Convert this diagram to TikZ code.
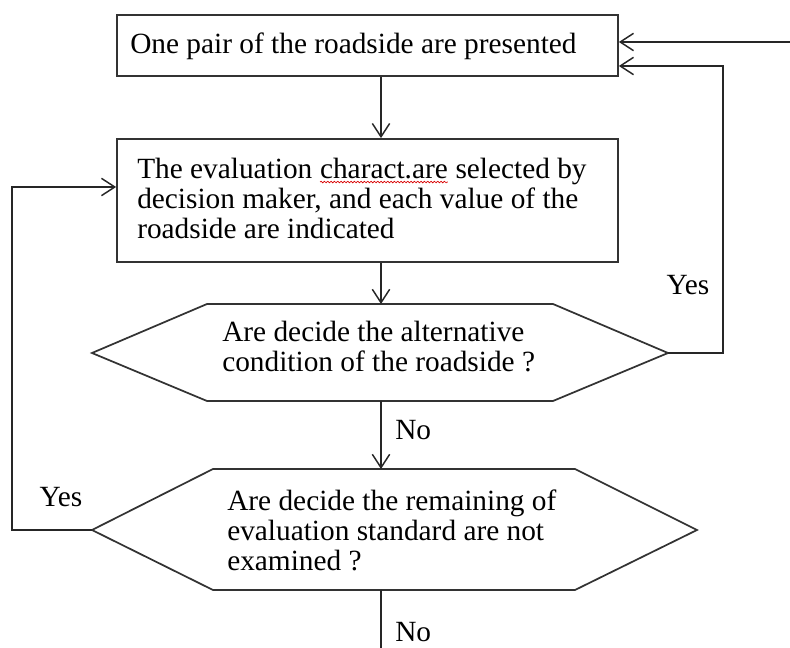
\documentclass[tikz,border=0pt]{standalone}
\usepackage{fontspec}
\setmainfont{Liberation Serif}
\usetikzlibrary{arrows.meta,decorations.pathmorphing}
\newcommand\spellwave[1]{\tikz[baseline=(sw.base)]{\node[inner sep=0pt,outer sep=0pt,anchor=base] (sw) {#1};\draw[red!85!black,line width=0.5pt,decorate,decoration={snake,amplitude=0.6pt,segment length=2.5pt}] ([yshift=-3pt]sw.base west) -- ([yshift=-3pt]sw.base east);}}
\tikzset{
  boxshape/.style={draw=black!80, line width=1.3pt},
  conn/.style={draw=black!85, line width=1.1pt},
  arr/.style={conn, -{Straight Barb[length=10pt,width=13pt,line width=1.1pt]}},
  txt/.style={font=\fontsize{22}{22.5}\selectfont, inner sep=0pt, align=left},
  lbl/.style={font=\fontsize{22}{22.5}\selectfont, inner sep=0pt},
}
\begin{document}
\begin{tikzpicture}[x=0.75pt,y=-0.75pt]
\useasboundingbox (0,0) rectangle (790,648);
% boxes
\node[boxshape, rectangle, minimum width=375.75pt, minimum height=45.75pt, inner sep=0pt] (b1) at (367.5,45.5) {};
\node[boxshape, rectangle, minimum width=375.75pt, minimum height=92.25pt, inner sep=0pt] (b2) at (367.5,200.5) {};
% hexagon 1
\coordinate (h1l) at (92,353);
\coordinate (h1r) at (668,353);
\coordinate (h1t) at (381,304);
\coordinate (h1b) at (381,401);
\draw[boxshape] (h1l) -- (207,304) -- (553,304) -- (h1r) -- (553,401) -- (207,401) -- cycle;
% hexagon 2
\coordinate (h2l) at (92,530);
\coordinate (h2r) at (697,530);
\coordinate (h2t) at (381,469);
\coordinate (h2b) at (381,590);
\draw[boxshape] (h2l) -- (213,469) -- (575,469) -- (h2r) -- (575,590) -- (213,590) -- cycle;
% texts
\node[txt, anchor=west] (t1) at (130,46) {One pair of the roadside are presented};
\node[txt, anchor=west] (t2) at (137,198) {The evaluation \spellwave{charact.are} selected by\\decision maker, and each value of the\\roadside are indicated};
\node[txt, anchor=west] (t3) at (222,347) {Are decide the alternative\\condition of the roadside ?};
\node[txt, anchor=west] (t4) at (227,530) {Are decide the remaining of\\evaluation standard are not\\examined ?};
\node[lbl] (yesr) at (688,285) {Yes};
\node[lbl] (yesl) at (61,497) {Yes};
\node[lbl, anchor=west] (no1) at (395,430) {No};
\node[lbl, anchor=west] (no2) at (395,632) {No};
% connectors
\coordinate (topin) at (790,42);
\coordinate (rloop) at (723,66);
\coordinate (lloop) at (12,187);
\coordinate (bot) at (381,648);
\draw[arr] (topin) -- (b1.east |- topin);
\draw[arr] (h1r) -| (rloop) -- (b1.east |- rloop);
\draw[arr] (b1.south -| h1t) -- (b2.north -| h1t);
\draw[arr] (b2.south -| h1t) -- (h1t);
\draw[arr] (h1b) -- (h2t);
\draw[conn] (h2b) -- (bot);
\draw[arr] (h2l) -| (lloop) -- (b2.west |- lloop);
\end{tikzpicture}
\end{document}
